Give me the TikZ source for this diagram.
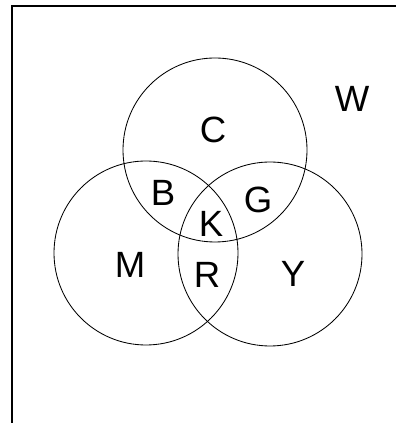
\documentclass[tikz,border=0pt]{standalone}
\usepackage{fontspec}
\setmainfont{Liberation Sans}
\tikzset{
    conjunto/.style={line width=0.6pt},
    region/.style={font=\fontsize{26}{30}\selectfont, inner sep=0pt}
}
\begin{document}
\begin{tikzpicture}
        \useasboundingbox (0,0) rectangle (9.9,10.625);
        
        % Marco (solo borde izquierdo y superior)
        \draw[line width=1pt] (0.3,0.05) -- (0.3,10.475) -- (9.9,10.475);
        
        % Los tres círculos: C arriba, M a la izquierda, Y a la derecha
        \draw[conjunto] (5.375,6.875) circle (2.3);
        \draw[conjunto] (3.65,4.3) circle (2.3);
        \draw[conjunto] (6.75,4.275) circle (2.3);
        
        % Etiquetas de las regiones
        \node[region] (c) at (5.325,7.375) {C};
        \node[region] (w) at (8.8,8.15) {W};
        \node[region] (b) at (4.075,5.8) {B};
        \node[region] (g) at (6.45,5.625) {G};
        \node[region] (k) at (5.275,5.025) {K};
        \node[region] (m) at (3.25,4.0) {M};
        \node[region] (r) at (5.175,3.75) {R};
        \node[region] (y) at (7.325,3.775) {Y};

    \end{tikzpicture}
\end{document}
